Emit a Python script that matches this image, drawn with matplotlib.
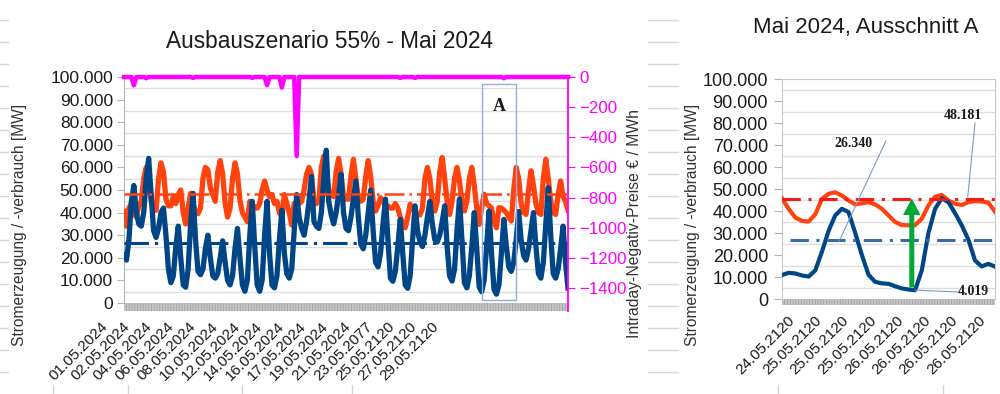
import numpy as np
import matplotlib.pyplot as plt
from matplotlib.lines import Line2D
from matplotlib.patches import Rectangle, FancyArrowPatch
from matplotlib.ticker import FuncFormatter

plt.rcParams['font.family'] = ['Liberation Sans', 'DejaVu Sans']
plt.rcParams['hatch.linewidth'] = 0.6

# --- Mai 2024, 4-Stunden-Werte ab 01.05. 00:00 (MW) ---
gen_mw = [
    21000, 19000, 28000, 45000, 52000, 40000,
    35000, 34000, 40000, 55000, 64000, 48000,
    32000, 29000, 33000, 40000, 42000, 30000,
    15000, 9000, 12000, 25000, 34000, 20000,
    8000, 7000, 15000, 35000, 48500, 28000,
    14000, 12500, 15000, 24000, 30000, 20000,
    12000, 11000, 13000, 20000, 27500, 18000,
    10000, 8000, 12000, 24000, 33000, 20000,
    8000, 5200, 10000, 30000, 45000, 25000,
    8000, 5200, 10000, 30000, 45000, 22000,
    8000, 6700, 12000, 28000, 41000, 22000,
    13000, 11000, 15000, 32000, 48000, 38000,
    33000, 30000, 36000, 45000, 56000, 36000,
    34000, 33000, 40000, 55000, 67600, 45000,
    39000, 35000, 40000, 48000, 57000, 40000,
    33000, 32000, 38000, 46000, 54000, 38000,
    26000, 24000, 30000, 40000, 50000, 32000,
    18000, 16000, 22000, 35000, 46000, 28000,
    11000, 9600, 14000, 25000, 37000, 22000,
    8000, 6500, 12000, 28000, 43000, 32000,
    27000, 25000, 30000, 38000, 45000, 35000,
    28000, 27000, 30000, 36000, 43000, 25000,
    12000, 9700, 15000, 32000, 46000, 28000,
    9000, 6700, 12000, 25000, 40000, 24000,
    7000, 5000, 10000, 25000, 40700, 22000,
    6000, 3900, 8000, 22000, 37000, 25000,
    16000, 14000, 18000, 28000, 40500, 28000,
    21000, 19000, 24000, 32000, 40000, 25000,
    13000, 11000, 18000, 35000, 51000, 30000,
    13000, 11000, 15000, 24000, 34000, 18000,
    6600,
]
load_mw = [
    40500, 34000, 42000, 44000, 40000, 38000,
    43000, 45000, 55000, 60000, 56000, 45000,
    42000, 41000, 55000, 62000, 58000, 46000,
    43000, 43000, 47000, 44000, 48000, 50000,
    40000, 35000, 42000, 48500, 44000, 40000,
    39500, 42000, 55000, 60000, 59000, 51000,
    48000, 45000, 58000, 63000, 57000, 44000,
    38000, 42000, 55000, 62000, 57000, 45500,
    40000, 38000, 36000, 45000, 44000, 42000,
    42000, 44000, 50000, 54000, 50000, 47000,
    48000, 44000, 45000, 40000, 38000, 48000,
    44000, 40000, 34500, 44000, 44000, 44000,
    45000, 50000, 57000, 60000, 57000, 45000,
    44000, 45000, 60000, 65000, 58000, 50000,
    48000, 47000, 58000, 64000, 57000, 47000,
    46000, 46000, 56000, 63600, 55000, 46000,
    45000, 46000, 56000, 63000, 56000, 45000,
    40700, 43000, 46600, 45000, 43000, 43000,
    42000, 42000, 44000, 42000, 38000, 35000,
    33300, 38000, 43700, 42000, 40000, 39000,
    39000, 42000, 55000, 60000, 55000, 45000,
    40700, 45000, 58000, 64400, 55000, 45000,
    39200, 45000, 55000, 60000, 54000, 45000,
    40700, 45000, 55000, 60000, 52000, 42000,
    34800, 42000, 48100, 44000, 43000, 42000,
    36000, 33300, 42200, 42000, 41000, 40000,
    38000, 36300, 50000, 60000, 55000, 44000,
    40000, 39200, 50000, 58500, 52000, 44000,
    40000, 39200, 55000, 63600, 55000, 45000,
    40000, 39200, 48000, 54000, 47000, 45000,
    41000,
]
gen_mean = 26340
load_mean = 48181

# negative Intraday-Preise (EUR/MWh): Index des 4h-Werts und Preis
price_idx = [4, 9, 28, 52, 58, 64, 70, 112, 118, 154]
price_val = [-55, -8, -6, -6, -55, -70, -525, -6, -6, -8]

left_dates = ['01.05.2024', '02.05.2024', '04.05.2024', '06.05.2024',
              '08.05.2024', '10.05.2024', '12.05.2024', '14.05.2024',
              '16.05.2024', '17.05.2024', '19.05.2024', '21.05.2024',
              '23.05.2077', '25.05.2120', '27.05.2120', '29.05.2120']
box_a = (145, 159)   # Ausschnitt A, Index-Bereich

# --- Ausschnitt A (24.05.-26.05.) ---
zoom_gen = [10900, 11900, 11600, 10700, 10200, 13000, 21500, 31000, 38000,
            41000, 39500, 30000, 20000, 11000, 7800, 7100, 6900, 5800, 4800,
            4300, 4019, 13000, 30000, 41000, 45800, 44000, 39000, 33500,
            27000, 17500, 14800, 16000, 14700]
zoom_load = [45800, 41000, 37000, 35500, 35200, 38500, 45500, 47800, 48500,
             47000, 44800, 43000, 43500, 44000, 43000, 41000, 38000, 35000,
             33600, 33500, 33600, 36500, 42500, 46500, 47300, 44800, 43300,
             42700, 44000, 44500, 44300, 43800, 39700]
zoom_gen_mean = 26800
zoom_load_mean = 45500
zoom_dates = ['24.05.2120', '25.05.2120', '25.05.2120', '25.05.2120',
              '26.05.2120', '26.05.2120', '26.05.2120', '26.05.2120']

BLUE = '#004586'
ORANGE = '#ff420e'
PINK = '#ff00ff'
GRID = '#dedede'
AXIS = '#b3b3b3'
TXT = '#1a1a1a'
W, H = 1000, 394


def fx(px):
    return px / W


def fy(py):
    return 1 - py / H


def thousands(v, pos=None):
    return f'{int(round(v)):,}'.replace(',', '.')


def tick_band(axis, height_px, axis_height_px):
    # dichte Kategorie-Striche unter der Achse als grauer Streifen
    h = height_px / axis_height_px
    axis.add_patch(Rectangle((0, -h), 1, h, transform=axis.transAxes, clip_on=False,
                             fc='#c6c6c6', ec='#a2a2a2', hatch='||||||', lw=0))


fig = plt.figure(figsize=(10, 3.94), dpi=100)

# Zellraster der Tabelle im Hintergrund
for y in np.arange(20, H, 22):
    fig.add_artist(Line2D([0, fx(8)], [fy(y)] * 2, color='#d6d6d6', lw=1))
    fig.add_artist(Line2D([fx(648), fx(678)], [fy(y)] * 2, color='#d6d6d6', lw=1))
for xp in [53, 128, 242, 352, 778, 943]:
    fig.add_artist(Line2D([fx(xp)] * 2, [fy(385), fy(394)], color='#d6d6d6', lw=1))

# ---------------- linkes Diagramm ----------------
ax = fig.add_axes([fx(124), fy(303), 444 / W, 226 / H])
x = np.arange(len(gen_mw))
for v in range(5000, 100000, 10000):
    ax.axhline(v, color=GRID, lw=1, zorder=0)
ax.plot(x, load_mw, color=ORANGE, lw=3.8, zorder=3)
ax.plot(x, gen_mw, color=BLUE, lw=3.8, zorder=4)
ax.axhline(load_mean, color=ORANGE, lw=1.8, ls=(0, (8, 2, 1, 2)), zorder=5)
ax.axhline(gen_mean, color=BLUE, lw=2.2, ls=(0, (8, 2, 1, 2)), zorder=5)
ax.add_patch(Rectangle((box_a[0], 1200), box_a[1] - box_a[0], 95800,
                       fill=False, ec='#8eaedb', lw=1, zorder=6))
ax.text((box_a[0] + box_a[1]) / 2, 87000, 'A', ha='center', va='center',
        fontsize=13, fontweight='bold', family='Liberation Serif', color=TXT)

ax.set_xlim(0, len(x) - 1)
ax.set_ylim(0, 100000)
ax.set_yticks(range(0, 100001, 10000))
ax.yaxis.set_major_formatter(FuncFormatter(thousands))
ax.set_xticks([])
tick_band(ax, 8, 226)
ax.tick_params(axis='y', length=5, color=AXIS, labelsize=12.5, labelcolor=TXT, pad=3)
for s in ['top', 'right', 'bottom']:
    ax.spines[s].set_visible(False)
ax.spines['left'].set_color(AXIS)

ax2 = ax.twinx()
price = np.zeros(len(x))
price[price_idx] = price_val
ax2.plot(x, price, color=PINK, lw=3.2, clip_on=False, zorder=6)
ax2.set_ylim(-1500, 0)
ax2.set_yticks(range(-1400, 1, 200))
ax2.tick_params(axis='y', length=5, color=PINK, labelcolor=PINK, labelsize=12.2, pad=3)
for s in ['top', 'left', 'bottom']:
    ax2.spines[s].set_visible(False)
ax2.spines['right'].set_color(PINK)
ax2.spines['right'].set_linewidth(1.3)
ax2.spines['right'].set_bounds(-1550, 0)

fig.text(fx(329), fy(42), 'Ausbauszenario 55% - Mai 2024', ha='center', va='center',
         fontsize=16.3, color=TXT)
fig.text(fx(20), fy(225), 'Stromerzeugung / -verbrauch [MW]', rotation=90,
         ha='center', va='center', fontsize=11.2, color='#333333')
fig.text(fx(635), fy(224), 'Intraday-Negativ-Preise € / MWh', rotation=90,
         ha='center', va='center', fontsize=11.3, color='#333333')
for k, lab in enumerate(left_dates):
    fig.text(fx(101 + 22 * k), fy(319), lab, rotation=45, rotation_mode='anchor',
             ha='right', va='top', fontsize=11, color=TXT)

# ---------------- rechtes Diagramm (Ausschnitt A) ----------------
bx = fig.add_axes([fx(782), fy(299), 213 / W, 220 / H])
xz = np.arange(len(zoom_gen))
for v in range(5000, 100000, 10000):
    bx.axhline(v, color=GRID, lw=1, zorder=0)
bx.plot(xz, zoom_load, color=ORANGE, lw=3, zorder=3)
bx.plot(xz, zoom_gen, color=BLUE, lw=3, zorder=4)
bx.plot([0, xz[-1]], [zoom_load_mean] * 2, color='#ee1c1c', lw=2.2,
        ls=(0, (6, 2.5, 1, 2.5)), zorder=5)
bx.plot([1.2, xz[-1]], [zoom_gen_mean] * 2, color='#3a6aa8', lw=2.2,
        ls=(0, (6, 2.5, 1, 2.5)), zorder=5)

i_min = int(np.argmin(zoom_gen))
bx.add_patch(FancyArrowPatch((i_min - 0.5, zoom_gen[i_min]), (i_min - 0.5, 47000),
                             arrowstyle='simple,head_length=1.0,head_width=1.05,tail_width=0.3',
                             mutation_scale=12, color='#00a933', lw=0, zorder=7))

lead = '#7a9cc6'
bx.plot([15.6, 8.6], [71800, 26400], color=lead, lw=0.8, zorder=6)
bx.plot([29.0, 27.9], [80000, 46400], color=lead, lw=0.8, zorder=6)
bx.plot([i_min, 26.4], [zoom_gen[i_min], 3200], color=lead, lw=0.8, zorder=6)
ann = dict(fontsize=10, fontweight='bold', family='Liberation Serif', color=TXT,
           ha='center', va='center', zorder=8)
bx.text(10.7, 70900, thousands(gen_mean), **ann)
bx.text(27.2, 83600, thousands(load_mean), **ann)
bx.text(28.8, 3200, thousands(zoom_gen[i_min]), **ann)

bx.set_xlim(0, xz[-1])
bx.set_ylim(0, 100000)
bx.set_yticks(range(0, 100001, 10000))
bx.yaxis.set_major_formatter(FuncFormatter(thousands))
bx.set_xticks([])
tick_band(bx, 6, 220)
bx.tick_params(axis='y', length=6, color=AXIS, labelsize=13, labelcolor=TXT, pad=4)
for s in ['top', 'right', 'left']:
    bx.spines[s].set_color('#c8c8c8')
bx.spines['bottom'].set_visible(False)

fig.text(fx(866), fy(28), 'Mai 2024, Ausschnitt A', ha='center', va='center',
         fontsize=16, color=TXT)
fig.text(fx(692), fy(225), 'Stromerzeugung / -verbrauch [MW]', rotation=90,
         ha='center', va='center', fontsize=11.2, color='#333333')
for k, lab in enumerate(zoom_dates):
    fig.text(fx(787 + 27.3 * k), fy(313), lab, rotation=45, rotation_mode='anchor',
             ha='right', va='top', fontsize=11, color=TXT)

fig.savefig('out.png', dpi=100)
